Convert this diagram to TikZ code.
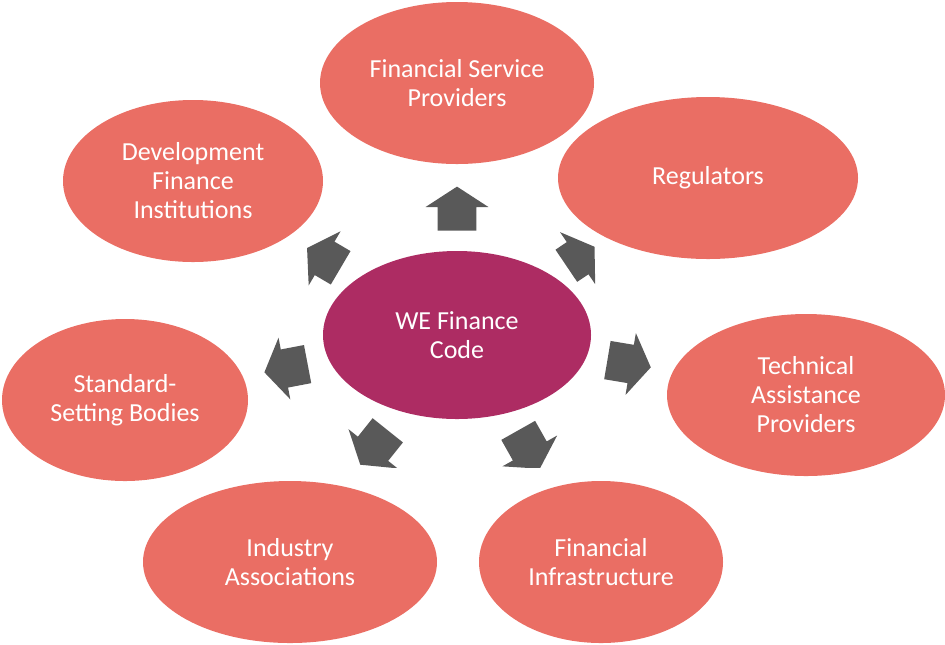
\documentclass[tikz,border=0pt]{standalone}
\usepackage{fontspec}
\setmainfont{Carlito}
\usepackage{tikz}
\usetikzlibrary{shapes.geometric,shapes.arrows}
\definecolor{WEsalmon}{RGB}{234,110,100}
\definecolor{WEplum}{RGB}{173,44,99}
\definecolor{WEgrey}{RGB}{89,89,89}

\begin{document}
\begin{tikzpicture}[
    x=0.5pt, y=-0.5pt,
    party/.style={ellipse, fill=WEsalmon, text=white, inner sep=0pt, minimum height=81pt, align=center, font=\fontsize{13}{14.5}\selectfont},
    hub/.style={party, fill=WEplum, minimum width=134pt, minimum height=84pt},
    spoke/.style={single arrow, anchor=tail, fill=WEgrey, inner xsep=0pt, inner ysep=9.5pt, minimum height=22pt, minimum width=31pt, single arrow head extend=6pt, single arrow tip angle=114}
]
    \useasboundingbox (0,0) rectangle (945,644);

    \node[hub] (code) at (457,335) {WE Finance\\Code};
    \node[party, minimum width=137pt] (fsp) at (457,83) {Financial Service\\Providers};
    \node[party, minimum width=150pt] (reg) at (708,178) {Regulators};
    \node[party, minimum width=139pt] (tap) at (806,395) {Technical\\Assistance\\Providers};
    \node[party, minimum width=122pt] (fmi) at (601,562) {Financial\\Infrastructure};
    \node[party, minimum width=147pt] (ia) at (290,562) {Industry\\Associations};
    \node[party, minimum width=123pt] (ssb) at (125,400) {Standard-\\Setting Bodies};
    \node[party, minimum width=130pt] (dfi) at (193,181) {Development\\Finance\\Institutions};

    % arrows start at their tails, the lower two are cut flat
    \begin{scope}
        \clip (0,0) rectangle (945,467);
        \node[spoke, rotate=90] (upFSP) at (457,231) {};
        \node[spoke, rotate=34, minimum height=17pt] (upREG) at (566,266) {};
        \node[spoke, rotate=-9.5] (toTAP) at (607,360) {};
        \node[spoke, rotate=-60.6] (toFMI) at (518,430) {};
        \node[spoke, rotate=-128.6] (toIA) at (388,430) {};
        \node[spoke, rotate=190.8] (toSSB) at (308,364) {};
        \node[spoke, rotate=149.5, minimum height=19.5pt] (upDFI) at (341,268) {};
    \end{scope}
\end{tikzpicture}
\end{document}
